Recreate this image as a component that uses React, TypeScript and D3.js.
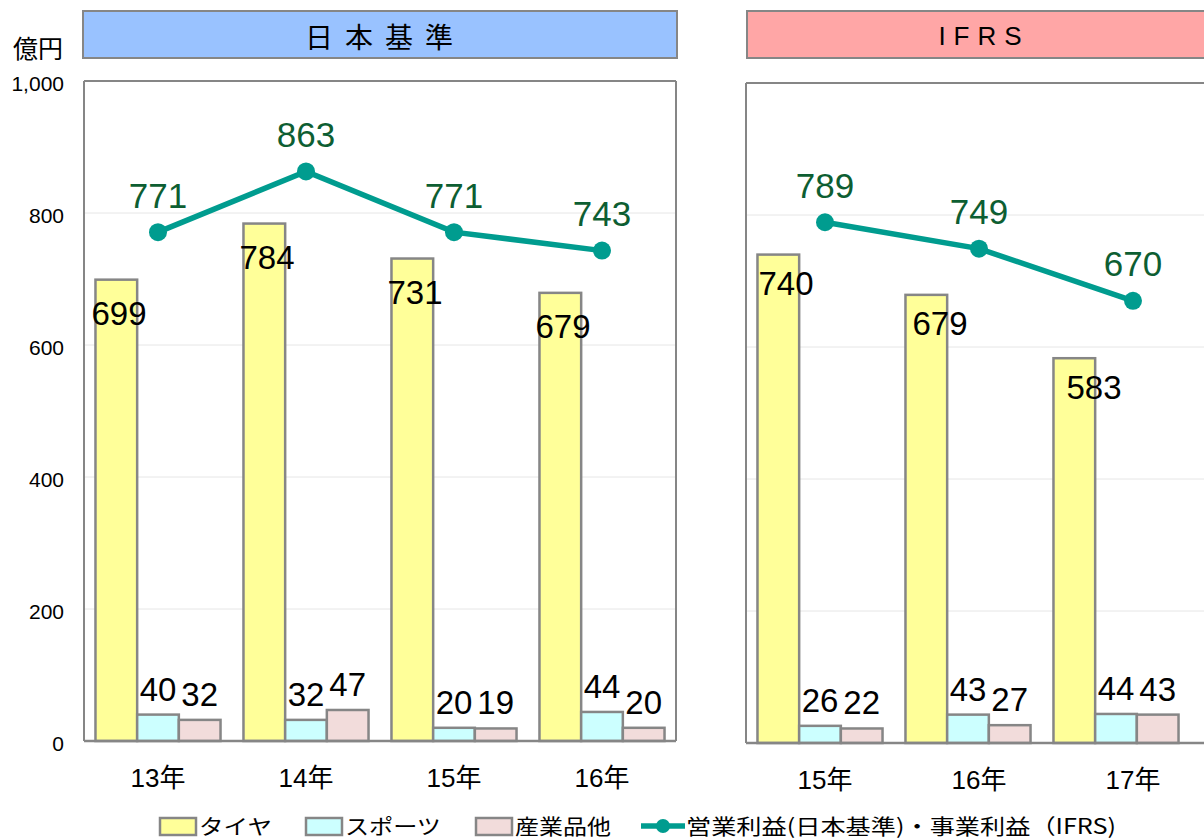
import React from "react";
import * as d3 from "d3";

const yearsJ = ["13年", "14年", "15年", "16年"];
const tireJ = [699, 784, 731, 679];
const sportsJ = [40, 32, 20, 44];
const industJ = [32, 47, 19, 20];
const profitJ = [771, 863, 771, 743];

const yearsI = ["15年", "16年", "17年"];
const tireI = [740, 679, 583];
const sportsI = [26, 43, 44];
const industI = [22, 27, 43];
const profitI = [789, 749, 670];

const yTicks = [0, 200, 400, 600, 800, 1000];
const seriesNames = ["タイヤ", "スポーツ", "産業品他"];
const lineName = "営業利益(日本基準)・事業利益（IFRS)";

const FONT = "'Liberation Sans', Arial, 'Noto Sans CJK JP', sans-serif";
const JFONT = "'Noto Sans CJK JP', 'Liberation Sans', sans-serif";
const COLORS = ["#ffff99", "#ccffff", "#f2dcdb"];
const STROKE = "#868686";
const TEAL = "#009c8f";
const GREEN = "#0d5e32";

type PanelProps = {
  years: string[];
  tire: number[];
  sports: number[];
  indust: number[];
  profit: number[];
  x0: number;
  lineX0: number;
  top: number;
  base: number;
  barBand: number;
  lineBand: number;
  rightFrame: boolean;
  tireDy: number;
};

function Panel(p: PanelProps) {
  const n = p.years.length;
  const y = d3.scaleLinear().domain([0, 1000]).range([p.base, p.top]);
  const xBar = d3
    .scaleBand<string>()
    .domain(p.years)
    .range([p.x0, p.x0 + n * p.barBand])
    .paddingInner(0.155)
    .paddingOuter(0.0775);
  const xLine = d3
    .scalePoint<string>()
    .domain(p.years)
    .range([p.lineX0, p.lineX0 + n * p.lineBand])
    .padding(0.5);
  const sub = d3
    .scaleBand<number>()
    .domain([0, 1, 2])
    .range([0, xBar.bandwidth()]);
  const right = p.x0 + n * p.lineBand;
  const series = [p.tire, p.sports, p.indust];
  const line = d3
    .line<number>()
    .x((_, i) => xLine(p.years[i]) as number)
    .y((d) => y(d));

  return (
    <g>
      {yTicks
        .filter((t) => t > 0 && t < 1000)
        .map((t) => (
          <line
            key={t}
            x1={p.x0}
            x2={right}
            y1={y(t)}
            y2={y(t)}
            stroke="#e6e6e6"
            strokeWidth={1}
          />
        ))}
      <line x1={p.x0} x2={right} y1={p.top} y2={p.top} stroke={STROKE} strokeWidth={2} />
      <line x1={p.x0} x2={p.x0} y1={p.top} y2={p.base} stroke={STROKE} strokeWidth={2} />
      {p.rightFrame && (
        <line x1={right} x2={right} y1={p.top} y2={p.base} stroke={STROKE} strokeWidth={2} />
      )}
      {series.map((vals, si) =>
        p.years.map((yr, i) => {
          const bx = (xBar(yr) as number) + (sub(si) as number);
          return (
            <rect
              key={si + "-" + i}
              x={bx}
              y={y(vals[i])}
              width={sub.bandwidth()}
              height={p.base - y(vals[i])}
              fill={COLORS[si]}
              stroke={STROKE}
              strokeWidth={2.5}
            />
          );
        })
      )}
      <line x1={p.x0} x2={right} y1={p.base} y2={p.base} stroke={STROKE} strokeWidth={2.5} />
      {p.years.map((yr, i) => (
        <text
          key={"t" + i}
          x={(xLine(yr) as number) - 39}
          y={y(p.tire[i]) + p.tireDy}
          textAnchor="middle"
          dominantBaseline="central"
          fontSize={33}
          fontFamily={FONT}
          fill="#000"
        >
          {p.tire[i]}
        </text>
      ))}
      {[p.sports, p.indust].map((vals, k) =>
        p.years.map((yr, i) => (
          <text
            key={"s" + k + i}
            x={(xBar(yr) as number) + (sub(k + 1) as number) + sub.bandwidth() / 2}
            y={y(vals[i]) - 14}
            textAnchor="middle"
            fontSize={33}
            fontFamily={FONT}
            fill="#000"
          >
            {vals[i]}
          </text>
        ))
      )}
      <path d={line(p.profit) || ""} fill="none" stroke={TEAL} strokeWidth={5.5} />
      {p.years.map((yr, i) => (
        <circle key={"c" + i} cx={xLine(yr) as number} cy={y(p.profit[i])} r={9} fill={TEAL} />
      ))}
      {p.years.map((yr, i) => (
        <text
          key={"p" + i}
          x={xLine(yr) as number}
          y={y(p.profit[i]) - 37}
          textAnchor="middle"
          dominantBaseline="central"
          fontSize={35}
          fontFamily={FONT}
          fill={GREEN}
        >
          {p.profit[i]}
        </text>
      ))}
      {p.years.map((yr, i) => (
        <text
          key={"x" + i}
          x={xLine(yr) as number}
          y={p.base + 37}
          textAnchor="middle"
          dominantBaseline="central"
          fontSize={26}
          fontFamily={FONT}
          fill="#000"
        >
          {yr}
        </text>
      ))}
    </g>
  );
}

export default function App() {
  const yAxis = d3.scaleLinear().domain([0, 1000]).range([741, 81]);
  const legendItems = [
    { x: 160, label: seriesNames[0], color: COLORS[0], len: 73 },
    { x: 306, label: seriesNames[1], color: COLORS[1], len: 96 },
    { x: 476, label: seriesNames[2], color: COLORS[2], len: 96 },
  ];
  return (
    <svg
      width={1204}
      height={839}
      style={{ position: "absolute", left: 0, top: 0, background: "#fff" }}
    >
      <rect x={0} y={0} width={1204} height={839} fill="#fff" />
      <rect x={83} y={11} width={594} height={47} fill="#99c2ff" stroke={STROKE} strokeWidth={2} />
      <text
        x={385}
        y={36}
        textAnchor="middle"
        dominantBaseline="central"
        fontSize={28}
        fontFamily={JFONT}
        letterSpacing={12}
        fill="#000"
      >
        日本基準
      </text>
      <rect x={747} y={11} width={470} height={47} fill="#ffa6a6" stroke={STROKE} strokeWidth={2} />
      <text
        x={984}
        y={36}
        textAnchor="middle"
        dominantBaseline="central"
        fontSize={26}
        fontFamily={FONT}
        letterSpacing={8}
        fill="#000"
      >
        IFRS
      </text>
      <text x={38} y={47} textAnchor="middle" dominantBaseline="central" fontSize={25} fontFamily={JFONT} fill="#000">
        億円
      </text>
      {yTicks.map((t) => (
        <text
          key={t}
          x={64}
          y={yAxis(t) + 2}
          textAnchor="end"
          dominantBaseline="central"
          fontSize={21}
          fontFamily={FONT}
          fill="#000"
        >
          {d3.format(",")(t)}
        </text>
      ))}
      <Panel
        years={yearsJ}
        tire={tireJ}
        sports={sportsJ}
        indust={industJ}
        profit={profitJ}
        x0={84}
        lineX0={84}
        top={81}
        base={741}
        barBand={148}
        lineBand={148}
        rightFrame={true}
        tireDy={34}
      />
      <Panel
        years={yearsI}
        tire={tireI}
        sports={sportsI}
        indust={industI}
        profit={profitI}
        x0={746}
        lineX0={748}
        top={83}
        base={743}
        barBand={148}
        lineBand={154}
        rightFrame={false}
        tireDy={29}
      />
      {legendItems.map((it) => (
        <g key={it.label}>
          <rect x={it.x} y={818} width={36} height={17} fill={it.color} stroke={STROKE} strokeWidth={2.5} />
          <text
            x={it.x + 39}
            y={825}
            dominantBaseline="central"
            fontSize={21}
            fontFamily={JFONT}
            fill="#000"
            textLength={it.len}
            lengthAdjust="spacingAndGlyphs"
          >
            {it.label}
          </text>
        </g>
      ))}
      <line x1={641} x2={685} y1={826} y2={826} stroke={TEAL} strokeWidth={5.5} />
      <circle cx={663} cy={826} r={7} fill={TEAL} />
      <text
        x={686}
        y={825}
        dominantBaseline="central"
        fontSize={21}
        fontFamily={JFONT}
        fill="#000"
        textLength={430}
        lengthAdjust="spacingAndGlyphs"
      >
        {lineName}
      </text>
    </svg>
  );
}
